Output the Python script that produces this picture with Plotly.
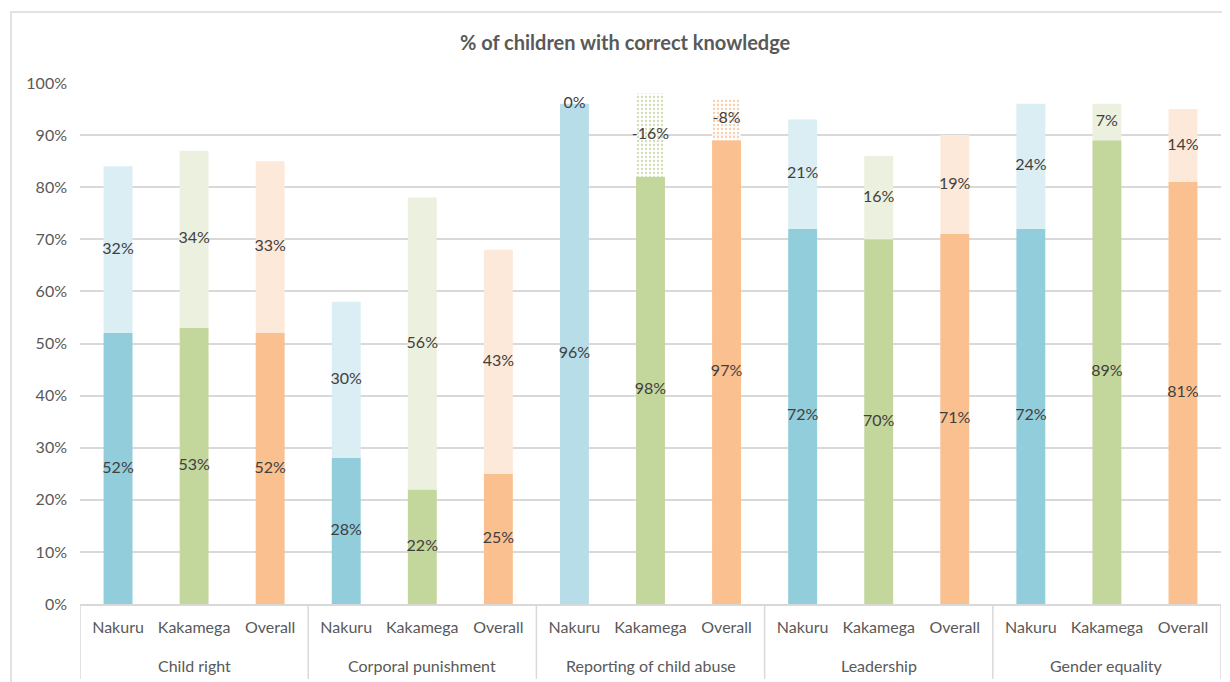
import plotly.graph_objects as go

groups = ["Child right", "Corporal punishment", "Reporting of child abuse", "Leadership", "Gender equality"]
regions = ["Nakuru", "Kakamega", "Overall"]

# label value of the lower segment and change (upper segment), per group x region
base_values = [52, 53, 52, 28, 22, 25, 96, 98, 97, 72, 70, 71, 72, 89, 81]
change_values = [32, 34, 33, 30, 56, 43, 0, -16, -8, 21, 16, 19, 24, 7, 14]

dark_colors = {"Nakuru": "#92cddc", "Kakamega": "#c3d69b", "Overall": "#fac090"}
light_colors = {"Nakuru": "#daeef3", "Kakamega": "#ebf1de", "Overall": "#fde9d9"}
pattern_colors = {"Nakuru": "#b7dde8", "Kakamega": "#c3d69b", "Overall": "#fac090"}

xr = [r for g in groups for r in regions]
xg = [g for g in groups for r in regions]
xpos = list(range(len(xr)))

lower_h = [b + min(c, 0) for b, c in zip(base_values, change_values)]
upper_h = [abs(c) for c in change_values]

lower_col = []
for i, r in enumerate(xr):
    if change_values[i] == 0:
        lower_col.append("#b7dde8")
    else:
        lower_col.append(dark_colors[r])
upper_col = [light_colors[r] for r in xr]

font_family = "Lato, 'Open Sans', sans-serif"
txt_col = "#404040"
axis_col = "#595959"
line_col = "#d9d9d9"

fig = go.Figure()
fig.add_trace(go.Bar(
    x=xpos, y=lower_h, width=0.38,
    marker=dict(color=lower_col, line=dict(width=0)),
    hoverinfo="skip", showlegend=False,
))
# positive changes: solid light segments
pos_idx = [i for i, c in enumerate(change_values) if c >= 0]
fig.add_trace(go.Bar(
    x=[xpos[i] for i in pos_idx], y=[upper_h[i] for i in pos_idx],
    base=[lower_h[i] for i in pos_idx], width=0.38,
    marker=dict(color=[upper_col[i] for i in pos_idx], line=dict(width=0)),
    hoverinfo="skip", showlegend=False,
))
# negative changes: dotted segments, one trace per colour
neg_idx = [i for i, c in enumerate(change_values) if c < 0]
for i in neg_idx:
    fig.add_trace(go.Bar(
        x=[xpos[i]], y=[upper_h[i]], base=[lower_h[i]], width=0.38,
        marker=dict(color="white", line=dict(width=0),
                    pattern=dict(shape=".", fgcolor=pattern_colors[xr[i]], bgcolor="white",
                                 size=4, solidity=0.25, fillmode="replace")),
        opacity=0.8,
        hoverinfo="skip", showlegend=False,
    ))

# data labels
fig.add_trace(go.Scatter(
    x=xpos, y=[h / 2 for h in lower_h], mode="text",
    text=[f"{v}%" for v in base_values],
    textfont=dict(family=font_family, size=16, color=txt_col),
    hoverinfo="skip", showlegend=False,
))
fig.add_trace(go.Scatter(
    x=xpos, y=[lo + up / 2 for lo, up in zip(lower_h, upper_h)], mode="text",
    text=[f"{v}%" for v in change_values],
    textfont=dict(family=font_family, size=16, color=txt_col),
    hoverinfo="skip", showlegend=False,
))

# group dividers and group labels
shapes = [dict(type="rect", xref="paper", yref="paper",
               x0=(11 - 80) / 1141, x1=1.1,
               y0=(604 - 700) / 521, y1=(604 - 12) / 521,
               line=dict(color=line_col, width=1.5), fillcolor="rgba(0,0,0,0)")]
annotations = []
n = len(regions)
for k, g in enumerate(groups):
    x_left = k * n - 0.5
    shapes.append(dict(type="line", xref="x", yref="paper", x0=x_left, x1=x_left,
                       y0=0, y1=(604 - 679) / 521, line=dict(color=line_col, width=1.5)))
    annotations.append(dict(text=g, xref="x", yref="paper", x=k * n + (n - 1) / 2,
                            y=(604 - 665) / 521, yanchor="middle", xanchor="center",
                            showarrow=False, font=dict(family=font_family, size=16, color=axis_col)))
x_end = len(groups) * n - 0.5
shapes.append(dict(type="line", xref="x", yref="paper", x0=x_end, x1=x_end,
                   y0=0, y1=(604 - 679) / 521, line=dict(color=line_col, width=1.5)))

fig.update_layout(
    width=1222, height=674,
    barmode="overlay",
    plot_bgcolor="white", paper_bgcolor="white",
    margin=dict(l=72, r=9, t=75, b=78),
    title=dict(text="<b>% of children with correct knowledge</b>", x=0.505, xanchor="center",
               xref="container", y=1 - 35 / 674, yanchor="middle",
               font=dict(family=font_family, size=20, color=axis_col)),
    font=dict(family=font_family, size=16, color=axis_col),
    yaxis=dict(range=[0, 100], dtick=10, ticksuffix="%", showgrid=True, gridcolor=line_col,
               gridwidth=1.5, zeroline=False, showline=False, ticks="", ticklabelstandoff=12,
               tickfont=dict(family=font_family, size=16, color=axis_col)),
    xaxis=dict(range=[-0.5, len(xr) - 0.5], tickvals=xpos, ticktext=xr, showgrid=False,
               zeroline=False, showline=True, linecolor=line_col, linewidth=1.5, ticks="",
               ticklabelstandoff=8,
               tickfont=dict(family=font_family, size=16, color=axis_col)),
    shapes=shapes,
    annotations=annotations,
)

fig.write_html("out.html")
